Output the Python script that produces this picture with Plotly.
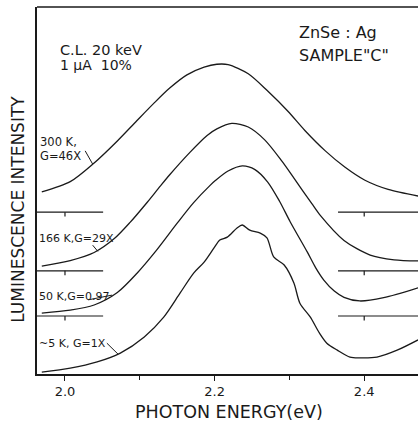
import plotly.graph_objects as go

# Photon energy (eV) and luminescence intensity (arb. units, vertically offset) per temperature
e_300 = [1.969, 2.007, 2.039, 2.070, 2.096, 2.119, 2.140, 2.163, 2.186, 2.203, 2.218, 2.245,
         2.271, 2.298, 2.321, 2.348, 2.374, 2.401, 2.432, 2.472]
i_300 = [49.6, 52.4, 57.5, 63.5, 69.0, 73.8, 77.9, 81.5, 83.6, 84.4, 84.3, 81.8,
         77.1, 71.6, 66.3, 60.8, 56.4, 52.8, 50.3, 48.5]

e_166 = [1.969, 2.007, 2.039, 2.066, 2.087, 2.110, 2.127, 2.140, 2.167, 2.190, 2.203, 2.223,
         2.245, 2.267, 2.290, 2.307, 2.330, 2.341, 2.373, 2.408, 2.440, 2.472]
i_166 = [29.4, 30.9, 33.1, 36.9, 41.3, 46.8, 51.1, 54.3, 60.4, 65.0, 66.8, 68.3,
         67.3, 63.8, 58.0, 53.1, 46.4, 43.3, 36.4, 32.4, 31.1, 30.8]

e_50 = [1.969, 2.007, 2.039, 2.070, 2.096, 2.123, 2.150, 2.172, 2.194, 2.201, 2.218, 2.237,
        2.254, 2.271, 2.287, 2.301, 2.324, 2.335, 2.346, 2.360, 2.373, 2.394, 2.426, 2.472]
i_50 = [16.6, 17.4, 18.8, 22.2, 27.4, 33.9, 41.1, 46.7, 51.4, 52.7, 55.3, 56.7,
        55.7, 52.3, 47.0, 41.5, 33.2, 29.0, 25.6, 22.6, 20.9, 19.9, 20.8, 23.5]

e_5 = [1.969, 2.007, 2.043, 2.074, 2.106, 2.132, 2.154, 2.172, 2.186, 2.199, 2.207, 2.217,
       2.230, 2.237, 2.247, 2.261, 2.270, 2.279, 2.293, 2.306, 2.314, 2.328, 2.340, 2.350,
       2.364, 2.381, 2.394, 2.417, 2.444, 2.472]
i_5 = [0.5, 1.6, 3.3, 5.7, 10.1, 15.5, 22.1, 27.5, 30.5, 34.3, 36.5, 37.3,
       39.8, 40.6, 39.2, 38.4, 37.1, 31.9, 29.7, 24.8, 19.3, 15.5, 11.2, 8.4,
       6.5, 4.6, 4.4, 4.6, 6.5, 9.3]

# Zero levels of the offset spectra
baselines = [44.1, 28.1, 15.8]

x_range = [1.9626, 2.4719]
y_range = [0, 100]
tick_vals = [2.0, 2.2, 2.4]
tick_text = ["2.0", "2.2", "2.4"]

INK = "#1a1a1a"
FONT = "DejaVu Sans"

fig = go.Figure()
for ex, iy in [(e_300, i_300), (e_166, i_166), (e_50, i_50), (e_5, i_5)]:
    fig.add_trace(go.Scatter(x=ex, y=iy, mode="lines",
                             line=dict(color=INK, width=1.3, shape="spline", smoothing=0.8),
                             showlegend=False, hoverinfo="skip"))

shapes = []
# short baseline stubs at both ends with a small marker tick at 2.0 and 2.4 eV
for b in baselines:
    for x0, x1, xt in [(x_range[0], 2.051, 2.0), (2.365, x_range[1], 2.4)]:
        shapes.append(dict(type="line", xref="x", yref="y", x0=x0, x1=x1, y0=b, y1=b,
                           line=dict(color=INK, width=1.2)))
        shapes.append(dict(type="line", xref="x", yref="y", x0=xt, x1=xt, y0=b, y1=b - 1.2,
                           line=dict(color=INK, width=1.2)))
# top frame line
shapes.append(dict(type="line", xref="paper", yref="paper", x0=0, x1=1, y0=1, y1=1,
                   line=dict(color=INK, width=1.5)))
# leader lines from labels to curves
leaders = [(2.027, 60.8, 2.037, 57.2), (2.037, 35.1, 2.044, 33.4),
           (2.031, 20.2, 2.063, 21.5), (2.056, 8.4, 2.071, 5.4)]
for x0, y0, x1, y1 in leaders:
    shapes.append(dict(type="line", xref="x", yref="y", x0=x0, y0=y0, x1=x1, y1=y1,
                       line=dict(color=INK, width=1)))

annotations = []
def label(text, x, y, size, xanchor="left", xref="x", yref="y", angle=0):
    annotations.append(dict(text=text, x=x, y=y, xref=xref, yref=yref, xanchor=xanchor,
                            yanchor="middle", showarrow=False, textangle=angle,
                            font=dict(family=FONT, size=size, color=INK)))

label("C.L. 20 keV", 1.990, 88.3, 14.5)
label("1 μA  10%", 1.990, 84.2, 14)
label("ZnSe : Ag", 2.310, 93.1, 16)
label("SAMPLE\"C\"", 2.310, 86.9, 16)
label("300 K,", 1.964, 63.2, 11.5)
label("G=46X", 1.964, 59.4, 11.5)
label("166 K,G=29X", 1.963, 36.8, 11)
label("50 K,G=0.97", 1.963, 21.0, 11)
label("~5 K, G=1X", 1.963, 8.2, 11)
label("LUMINESCENCE INTENSITY", -0.05, 0.45, 17, xanchor="center",
      xref="paper", yref="paper", angle=-90)
label("PHOTON ENERGY(eV)", 0.505, -0.104, 17.5, xanchor="center",
      xref="paper", yref="paper")

fig.update_layout(
    width=418, height=425,
    margin=dict(l=37, r=0, t=7, b=51),
    paper_bgcolor="white", plot_bgcolor="white",
    shapes=shapes, annotations=annotations,
    xaxis=dict(range=x_range, showgrid=False, zeroline=False, showline=True,
               linecolor=INK, linewidth=1.5, ticks="outside", ticklen=5, tickwidth=1.2,
               tickcolor=INK, tickvals=tick_vals, ticktext=tick_text,
               tickfont=dict(family=FONT, size=13, color=INK),
               minor=dict(tickvals=[2.1, 2.3], ticks="outside", ticklen=4,
                          tickcolor=INK, tickwidth=1.2)),
    yaxis=dict(range=y_range, showgrid=False, zeroline=False, showline=True,
               linecolor=INK, linewidth=1.5, showticklabels=False, ticks=""),
)

fig.write_html("out.html")
